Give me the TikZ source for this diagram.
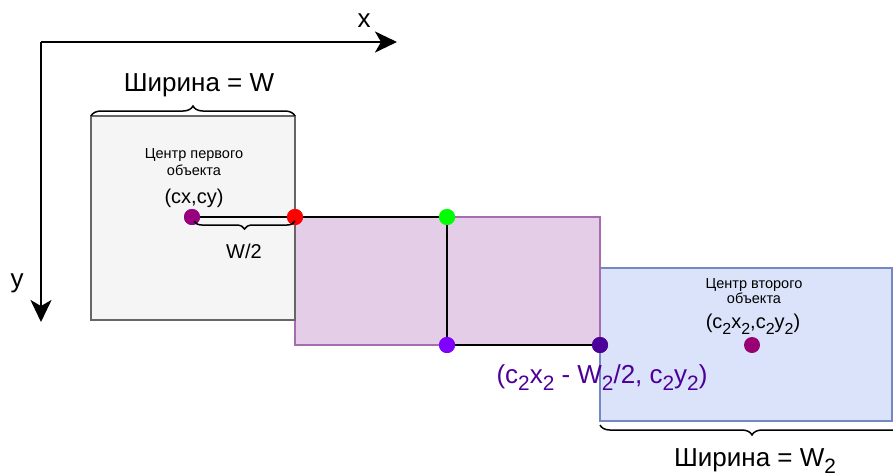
\documentclass[tikz,border=0pt]{standalone}
\usepackage{fontspec}
\setmainfont{Liberation Sans}
\usetikzlibrary{arrows.meta,decorations.pathreplacing}
\definecolor{grayfill}{HTML}{F5F5F5}
\definecolor{graystroke}{HTML}{666666}
\definecolor{purfill}{HTML}{E3CDE7}
\definecolor{purstroke}{HTML}{A66BB0}
\definecolor{bluefill}{HTML}{DAE3FA}
\definecolor{bluestroke}{HTML}{7688C4}
\definecolor{cOne}{HTML}{990080}
\definecolor{cTwo}{HTML}{990073}
\definecolor{cRed}{HTML}{FF0000}
\definecolor{cGreen}{HTML}{00FF00}
\definecolor{cViolet}{HTML}{7F00FF}
\definecolor{cDark}{HTML}{4C0099}
\newcommand\sbx[1]{\raisebox{-0.3em}{\scalebox{0.8}{#1}}}
\tikzset{
  dot/.style={circle,inner sep=0pt,minimum size=16pt},
  axis/.style={line width=2.5pt,-{Stealth[length=22pt,width=21pt,inset=6pt]}},
  seg/.style={line width=2.8pt,black},
  bracedeco/.style={line width=1.5pt,decorate,decoration={brace,amplitude=10pt}},
  small/.style={font=\fontsize{14.5}{16}\selectfont,anchor=base},
  mid/.style={font=\fontsize{20}{22}\selectfont,anchor=base},
  big/.style={font=\fontsize{26}{28}\selectfont,anchor=base},
}
\begin{document}
\begin{tikzpicture}[x=1pt,y=-1pt]
\useasboundingbox (0,0) rectangle (893,475);
\clip (0,0) rectangle (893,475);
% axes
\coordinate (o) at (41,42);
\coordinate (xend) at (397,42);
\coordinate (yend) at (41,322);
\draw[axis] (o) -- (xend);
\draw[axis] (o) -- (yend);
\node[big] (xl) at (364,27) {x};
\node[big] (yl) at (17,287) {y};
% boxes
\draw[fill=bluefill,draw=bluestroke,line width=2pt] (600,268) rectangle (892,421);
\draw[fill=purfill,draw=purstroke,line width=2pt] (295,217) rectangle (600,345);
\draw[fill=grayfill,draw=graystroke,line width=2pt] (91,116) rectangle (295,320);
% points
\node[dot,fill=cOne] (c1) at (192,217) {};
\node[dot,fill=cRed] (r) at (295,217) {};
\node[dot,fill=cGreen] (g) at (447,217) {};
\node[dot,fill=cViolet] (v) at (447,345) {};
\node[dot,fill=cDark] (d) at (600,345) {};
\node[dot,fill=cTwo] (c2) at (752,345) {};
% segments
\draw[seg] (c1.center) -- (r.center) -- (g.center) -- (v.center) -- (d.center);
\foreach \n/\c in {c1/cOne,r/cRed,g/cGreen,v/cViolet,d/cDark}{\node[dot,fill=\c] at (\n) {};}
% braces
\coordinate (b1a) at (91,116);
\coordinate (b1b) at (295,116);
\draw[bracedeco] (b1a) -- (b1b);
\coordinate (b2a) at (194,221);
\coordinate (b2b) at (295,221);
\draw[bracedeco,decoration={brace,amplitude=8pt,mirror}] (b2a) -- (b2b);
\coordinate (b3a) at (600,425);
\coordinate (b3b) at (904,425);
\draw[bracedeco,decoration={brace,amplitude=10pt,mirror}] (b3a) -- (b3b);
% texts
\node[big] (w1) at (199,91) {Ширина = W};
\node[small] (t1) at (194,158) {Центр первого};
\node[small] (t2) at (194,175) {объекта};
\node[mid] (t3) at (194,203) {(cx,cy)};
\node[mid] (t4) at (244,258) {W/2};
\node[small] (s1) at (754,288) {Центр второго};
\node[small] (s2) at (754,303) {объекта};
\node[mid] (s3) at (753,328) {(c\sbx{2}x\sbx{2},c\sbx{2}y\sbx{2})};
\node[big,text=cDark] (lbl) at (602,383) {(c\sbx{2}x\sbx{2} - W\sbx{2}/2, c\sbx{2}y\sbx{2})};
\node[big] (w2) at (755,466) {Ширина = W\sbx{2}};
\end{tikzpicture}
\end{document}
